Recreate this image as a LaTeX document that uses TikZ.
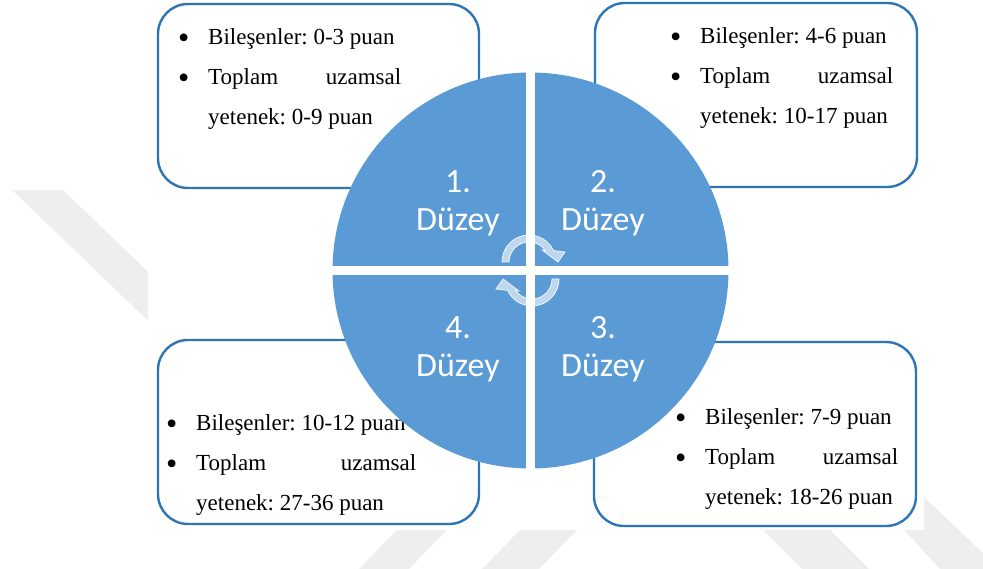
\documentclass[tikz,border=0pt]{standalone}
\usepackage{fontspec}
\setmainfont{Liberation Serif}
\newfontfamily\duzeyfont{Carlito}
\usepackage{tikz}
\usetikzlibrary{calc}
\definecolor{duzeyblue}{RGB}{91,155,213}
\definecolor{kutublue}{RGB}{46,117,182}
\definecolor{filigran}{RGB}{238,238,238}
\tikzset{
  puanbox/.style={draw=kutublue, line width=2.4pt, rounded corners=30pt,
    fill=white, inner sep=0pt},
  puantext/.style={anchor=base west, inner sep=0pt,
    font=\fontsize{23}{40}\selectfont\frenchspacing},
  duzeylabel/.style={text=white, align=center, inner sep=0pt,
    font=\duzeyfont\fontsize{34}{38}\selectfont},
  ayrac/.style={draw=white, line width=9pt},
  donus/.style={fill=white, fill opacity=0.6, draw=white, draw opacity=0.85,
    line width=0.8pt}
}
% a larger list bullet
\newcommand{\iri}{\raisebox{-4pt}{\scalebox{1.4}{\textbullet}}}
% bullet list of one level: text width, component score, total score
\newcommand{\puanliste}[3]{%
  \begin{tabular}[t]{@{}p{30pt}@{}p{#1}@{}}
    \iri & Bileşenler: #2 puan\\
    \iri & \makebox[#1][s]{Toplam uzamsal}\\
      & yetenek: #3 puan
  \end{tabular}}

\begin{document}
\begin{tikzpicture}[x=1pt, y=1pt]
  \useasboundingbox (0,0) rectangle (983,569);
  % faint stripes behind the sheet
  \fill[filigran] (12,379) -- (63,379) -- (170,276) -- (170,227) -- cycle;
  \fill[filigran] (924,72) -- (983,16) -- (983,0) -- (940,0) -- (905,38) -- cycle;
  \fill[filigran] (397,39) -- (447,39) -- (409,0) -- (359,0) -- cycle;
  \fill[filigran] (520,39) -- (577,39) -- (539,0) -- (482,0) -- cycle;
  \fill[filigran] (763,39) -- (830,39) -- (869,0) -- (802,0) -- cycle;
  \fill[white] (148,39) rectangle (924,569);

  % score boxes
  \node[puanbox, minimum width=321pt, minimum height=184pt] (kutu1) at (318.5,473) {};
  \node[puanbox, minimum width=322pt, minimum height=184pt] (kutu2) at (756,474) {};
  \node[puanbox, minimum width=322pt, minimum height=184pt] (kutu3) at (755,135) {};
  \node[puanbox, minimum width=321pt, minimum height=184pt] (kutu4) at (318.5,137) {};

  \node[puantext] (liste1) at (178,524) {\puanliste{193pt}{0-3}{0-9}};
  \node[puantext] (liste2) at (670,525) {\puanliste{193pt}{4-6}{10-17}};
  \node[puantext] (liste3) at (675,144) {\puanliste{193pt}{7-9}{18-26}};
  \node[puantext] (liste4) at (166,138) {\puanliste{220pt}{10-12}{27-36}};

  % the four levels
  \node[circle, fill=duzeyblue, minimum size=396pt, inner sep=0pt] (daire) at (530.5,298.5) {};
  \draw[ayrac] (daire.north) -- (daire.south);
  \draw[ayrac] (daire.west) -- (daire.east);

  \node[duzeylabel] (duzey1) at (458,366) {1.\\Düzey};
  \node[duzeylabel] (duzey2) at (603,366) {2.\\Düzey};
  \node[duzeylabel] (duzey3) at (603,220) {3.\\Düzey};
  \node[duzeylabel] (duzey4) at (458,220) {4.\\Düzey};

  % cycle arrows in the middle
  \foreach \aci in {0,180}
    \path[donus, shift={(daire.center)}, rotate=\aci, shift={(-1.5,8.5)}]
      (180:27) arc[start angle=180, end angle=25, radius=27]
      -- (36,10) -- (29,0) -- (13,12) -- (35:20)
      arc[start angle=35, end angle=180, radius=20] -- cycle;
\end{tikzpicture}
\end{document}
